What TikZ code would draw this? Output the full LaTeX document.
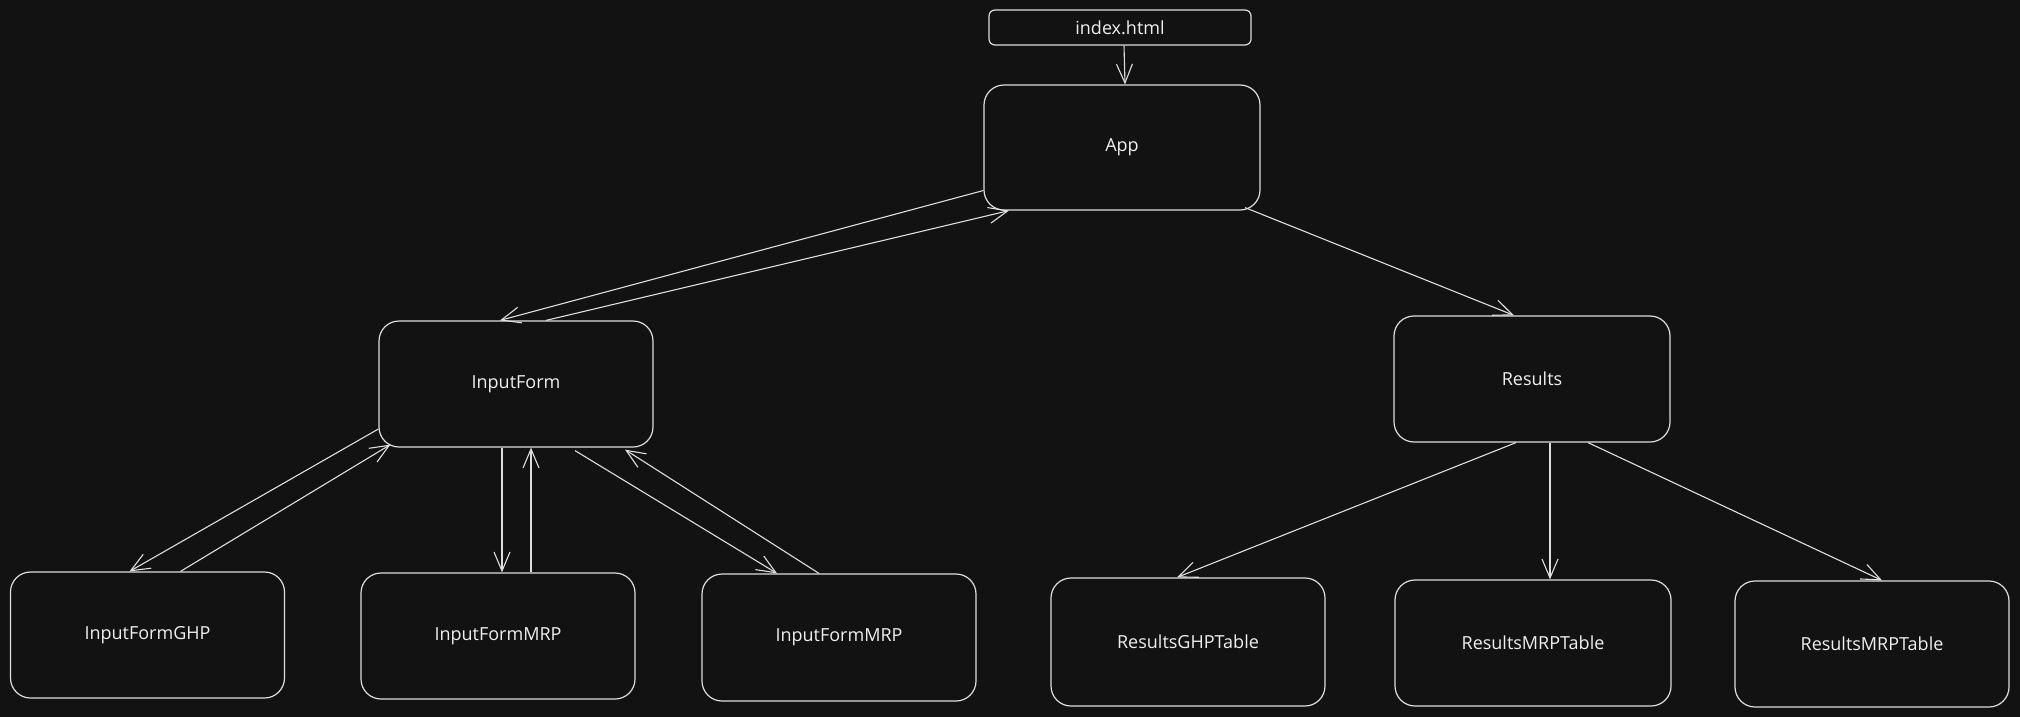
\documentclass[tikz,border=0pt]{standalone}
\usepackage{fontspec}
\setmainfont{Open Sans}
\usetikzlibrary{arrows.meta}

\definecolor{bg}{HTML}{121212}
\definecolor{ink}{HTML}{DEDEDE}
\definecolor{label}{HTML}{EFEFEF}

\tikzset{
  comp/.style={draw=ink, line width=1.2pt, rounded corners=20pt,
    minimum width=274pt, minimum height=126pt, inner sep=0pt,
    text=label, font=\fontsize{18}{20}\selectfont},
  entry/.style={draw=ink, line width=1.2pt, rounded corners=6pt,
    minimum width=262pt, minimum height=35pt, inner sep=0pt,
    text=label, font=\fontsize{18}{20}\selectfont},
  link/.style={draw=ink, line width=1.1pt,
    -{Straight Barb[length=19pt,width=16pt,line width=1.1pt]}},
}
% names set a little low inside their boxes
\newcommand{\lowered}[1]{\raisebox{-3pt}{#1}}

\begin{document}
\begin{tikzpicture}[x=1pt, y=-1pt]
  % canvas
  \fill[bg] (0,0) rectangle (2020,717);
  \useasboundingbox (0,0) rectangle (2020,717);

  % entry point and root component
  \node[entry] (index) at (1120,27.5) {index.html};
  \node[comp, minimum width=276pt, minimum height=125pt] (app) at (1122,147.5) {\lowered{App}};

  % second level
  \node[comp] (inputform) at (516,384) {\lowered{InputForm}};
  \node[comp, minimum width=276pt] (results) at (1532,379) {\lowered{Results}};

  % form children
  \node[comp] (ghp)  at (147.5,635) {\lowered{InputFormGHP}};
  \node[comp] (mrpa) at (498,636)   {\lowered{InputFormMRP}};
  \node[comp, minimum height=127pt] (mrpb) at (839,637.5) {\lowered{InputFormMRP}};

  % result tables
  \node[comp, minimum height=128pt] (rghp)  at (1188,642) {\lowered{ResultsGHPTable}};
  \node[comp, minimum width=276pt] (rmrpa) at (1533,643) {\lowered{ResultsMRPTable}};
  \node[comp] (rmrpb) at (1872,644) {\lowered{ResultsMRPTable}};

  % connectors
  \draw[link] ([xshift=4pt]index.south) -- ([xshift=3pt]app.north);

  \draw[link] ([yshift=-43pt]app.west) -- ([xshift=-16pt]inputform.north);
  \draw[link] ([xshift=30pt]inputform.north) -- ([xshift=-113pt]app.south);
  \draw[link] ([xshift=123pt,yshift=3pt]app.south) -- ([xshift=-18pt]results.north);

  \draw[link] ([yshift=-45pt]inputform.west) -- ([xshift=-18pt]ghp.north);
  \draw[link] ([xshift=33pt]ghp.north) -- ([xshift=12pt,yshift=3pt]inputform.south west);

  \draw[link] ([xshift=-14pt]inputform.south) -- ([xshift=4pt]mrpa.north);
  \draw[link] ([xshift=33pt]mrpa.north) -- ([xshift=15pt]inputform.south);

  \draw[link] ([xshift=59pt,yshift=-3pt]inputform.south) -- ([xshift=-62pt]mrpb.north);
  \draw[link] ([xshift=-20pt]mrpb.north) -- ([xshift=109pt,yshift=-2pt]inputform.south);

  \draw[link] ([xshift=-16pt]results.south) -- ([xshift=-11pt]rghp.north);
  \draw[link] ([xshift=18pt]results.south) -- ([xshift=17pt]rmrpa.north);
  \draw[link] ([xshift=56pt]results.south) -- ([xshift=10pt]rmrpb.north);
\end{tikzpicture}
\end{document}
